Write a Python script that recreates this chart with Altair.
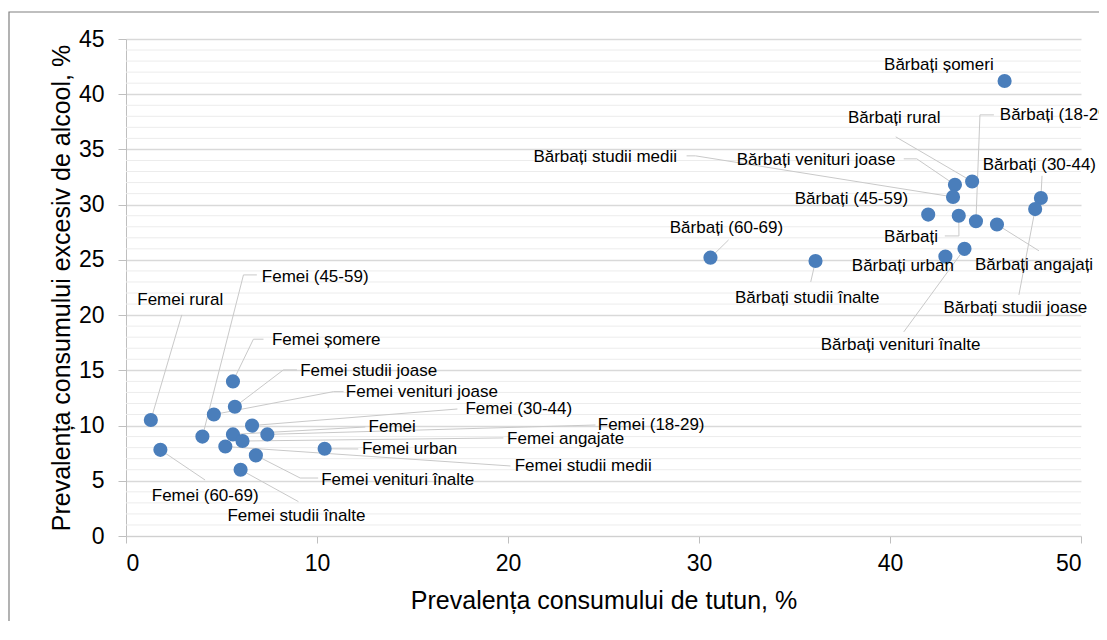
import altair as alt
import pandas as pd

FONT = "Liberation Sans"

names = ["Femei rural", "Femei (60-69)", "Femei (45-59)", "Femei șomere", "Femei studii joase",
         "Femei venituri joase", "Femei (30-44)", "Femei", "Femei (18-29)", "Femei angajate",
         "Femei studii medii", "Femei venituri înalte", "Femei studii înalte", "Femei urban",
         "Bărbați șomeri", "Bărbați rural", "Bărbați venituri joase", "Bărbați studii medii",
         "Bărbați (30-44)", "Bărbați studii joase", "Bărbați (45-59)", "Bărbați", "Bărbați (18-29)",
         "Bărbați angajați", "Bărbați (60-69)", "Bărbați studii înalte", "Bărbați venituri înalte",
         "Bărbați urban"]

tobacco = [1.3, 1.8, 4.0, 5.6, 5.7, 4.6, 6.6, 5.6, 7.4, 6.1, 5.2, 6.8, 6.0, 10.4,
           46.0, 44.3, 43.4, 43.3, 47.9, 47.6, 42.0, 43.6, 44.5, 45.6, 30.6, 36.1, 43.9, 42.9]
alcohol = [10.5, 7.8, 9.0, 14.0, 11.7, 11.0, 10.0, 9.2, 9.2, 8.6, 8.1, 7.3, 6.0, 7.9,
           41.2, 32.1, 31.8, 30.7, 30.6, 29.6, 29.1, 29.0, 28.5, 28.2, 25.2, 24.9, 26.0, 25.3]

# label anchor (left edge, vertical middle) in data units
label_x = [0.59, 1.35, 7.11, 7.64, 9.12, 11.51, 17.77, 12.70, 24.70, 19.95, 20.35, 10.22, 5.31, 12.35,
           39.69, 37.80, 31.97, 21.33, 44.85, 42.80, 35.01, 39.69, 45.75, 44.45, 28.47, 31.88, 36.37, 38.0]
label_y = [21.38, 3.65, 23.49, 17.75, 14.97, 13.07, 11.48, 9.90, 10.05, 8.76, 6.34, 5.07, 1.81, 7.88,
           42.66, 37.83, 34.06, 34.33, 33.60, 20.62, 30.50, 27.06, 38.13, 24.55, 27.93, 21.53, 17.30, 24.46]

# leader line vertices (after the point itself), data units
leaders = {
    "Femei rural": [(2.92, 20.02)],
    "Femei (60-69)": [(4.14, 5.07)],
    "Femei (45-59)": [(6.15, 23.64), (6.85, 23.64)],
    "Femei șomere": [(6.67, 17.82), (7.20, 17.82)],
    "Femei studii joase": [(8.24, 15.04), (8.95, 15.04)],
    "Femei venituri joase": [(10.86, 13.07), (11.39, 13.07)],
    "Femei (30-44)": [(17.35, 11.50)],
    "Femei": [(12.53, 9.87)],
    "Femei (18-29)": [(24.58, 10.05)],
    "Femei angajate": [(19.76, 8.88)],
    "Femei studii medii": [(20.13, 6.34)],
    "Femei venituri înalte": [(9.12, 5.25), (10.06, 5.25)],
    "Femei studii înalte": [(9.03, 3.11)],
    "Femei urban": [(12.16, 7.88)],
    "Bărbați rural": [(40.30, 36.14)],
    "Bărbați venituri joase": [(41.40, 34.15), (40.72, 34.15)],
    "Bărbați studii medii": [(29.82, 34.42), (29.35, 34.42)],
    "Bărbați (30-44)": [(47.96, 32.61)],
    "Bărbați studii joase": [(46.75, 21.83)],
    "Bărbați": [(43.61, 27.17), (42.87, 27.17)],
    "Bărbați (18-29)": [(44.71, 38.13), (45.44, 38.13)],
    "Bărbați angajați": [(47.80, 25.82)],
    "Bărbați (60-69)": [(31.55, 26.81)],
    "Bărbați studii înalte": [(35.85, 23.01)],
    "Bărbați venituri înalte": [(40.72, 18.48)],
}

x_ticks = [0, 10, 20, 30, 40, 50]
y_ticks = [0, 5, 10, 15, 20, 25, 30, 35, 40, 45]
minor_y = [v for v in range(0, 46) if v % 5 != 0]

df = pd.DataFrame({"name": names, "x": tobacco, "y": alcohol, "lx": label_x, "ly": label_y})

rows = []
for i, n in enumerate(names):
    if n in leaders:
        rows.append({"name": n, "o": 0, "x": tobacco[i], "y": alcohol[i]})
        for k, (a, b) in enumerate(leaders[n]):
            rows.append({"name": n, "o": k + 1, "x": a, "y": b})
ldf = pd.DataFrame(rows)

xs = alt.Scale(domain=[0, 50], nice=False, zero=False)
ys = alt.Scale(domain=[0, 45], nice=False, zero=False)

x_axis = alt.Axis(values=x_ticks, title="Prevalența consumului de tutun, %", grid=False,
                  tickSize=7, labelPadding=9, titlePadding=13, domainColor="#d0d0d0",
                  tickColor="#bfbfbf")
y_axis = alt.Axis(values=y_ticks, title="Prevalența consumului excesiv de alcool, %", grid=True,
                  gridColor="#d9d9d9", gridWidth=1.5, tickSize=8, labelPadding=14, titlePadding=4,
                  domainColor="#bfbfbf", tickColor="#bfbfbf")

minor = alt.Chart(pd.DataFrame({"yy": minor_y})).mark_rule(color="#ececec", strokeWidth=1).encode(
    y=alt.Y("yy:Q", scale=ys, axis=y_axis)
)

lines = alt.Chart(ldf).mark_line(color="#c9c9c9", strokeWidth=1).encode(
    x=alt.X("x:Q", scale=xs, axis=x_axis),
    y=alt.Y("y:Q", scale=ys, axis=y_axis),
    detail="name:N",
    order="o:Q",
)

points = alt.Chart(df).mark_circle(size=200, color="#4a7ebb", opacity=1).encode(
    x=alt.X("x:Q", scale=xs, axis=x_axis),
    y=alt.Y("y:Q", scale=ys, axis=y_axis),
)

labels = alt.Chart(df).mark_text(align="left", baseline="middle", fontSize=17, font=FONT,
                                 color="#000000").encode(
    x=alt.X("lx:Q", scale=xs, axis=x_axis),
    y=alt.Y("ly:Q", scale=ys, axis=y_axis),
    text="name:N",
)

frame = alt.Chart(pd.DataFrame({"k": [0]})).mark_rect(
    fillOpacity=0, stroke="#808080", strokeWidth=1.2
).encode(
    x=alt.value(-117), x2=alt.value(1300), y=alt.value(-27), y2=alt.value(900)
)

chart = alt.layer(minor, lines, points, labels, frame).properties(
    width=955, height=497,
    autosize=alt.AutoSizeParams(type="none"),
    padding={"left": 118, "top": 31, "right": 18, "bottom": 85},
).configure_view(stroke=None).configure_axis(
    labelFont=FONT, titleFont=FONT, labelFontSize=23, titleFontSize=25,
    titleFontWeight="normal", labelColor="#000000", titleColor="#000000",
)

chart.save("out.html", embed_options={"renderer": "svg", "actions": False})
